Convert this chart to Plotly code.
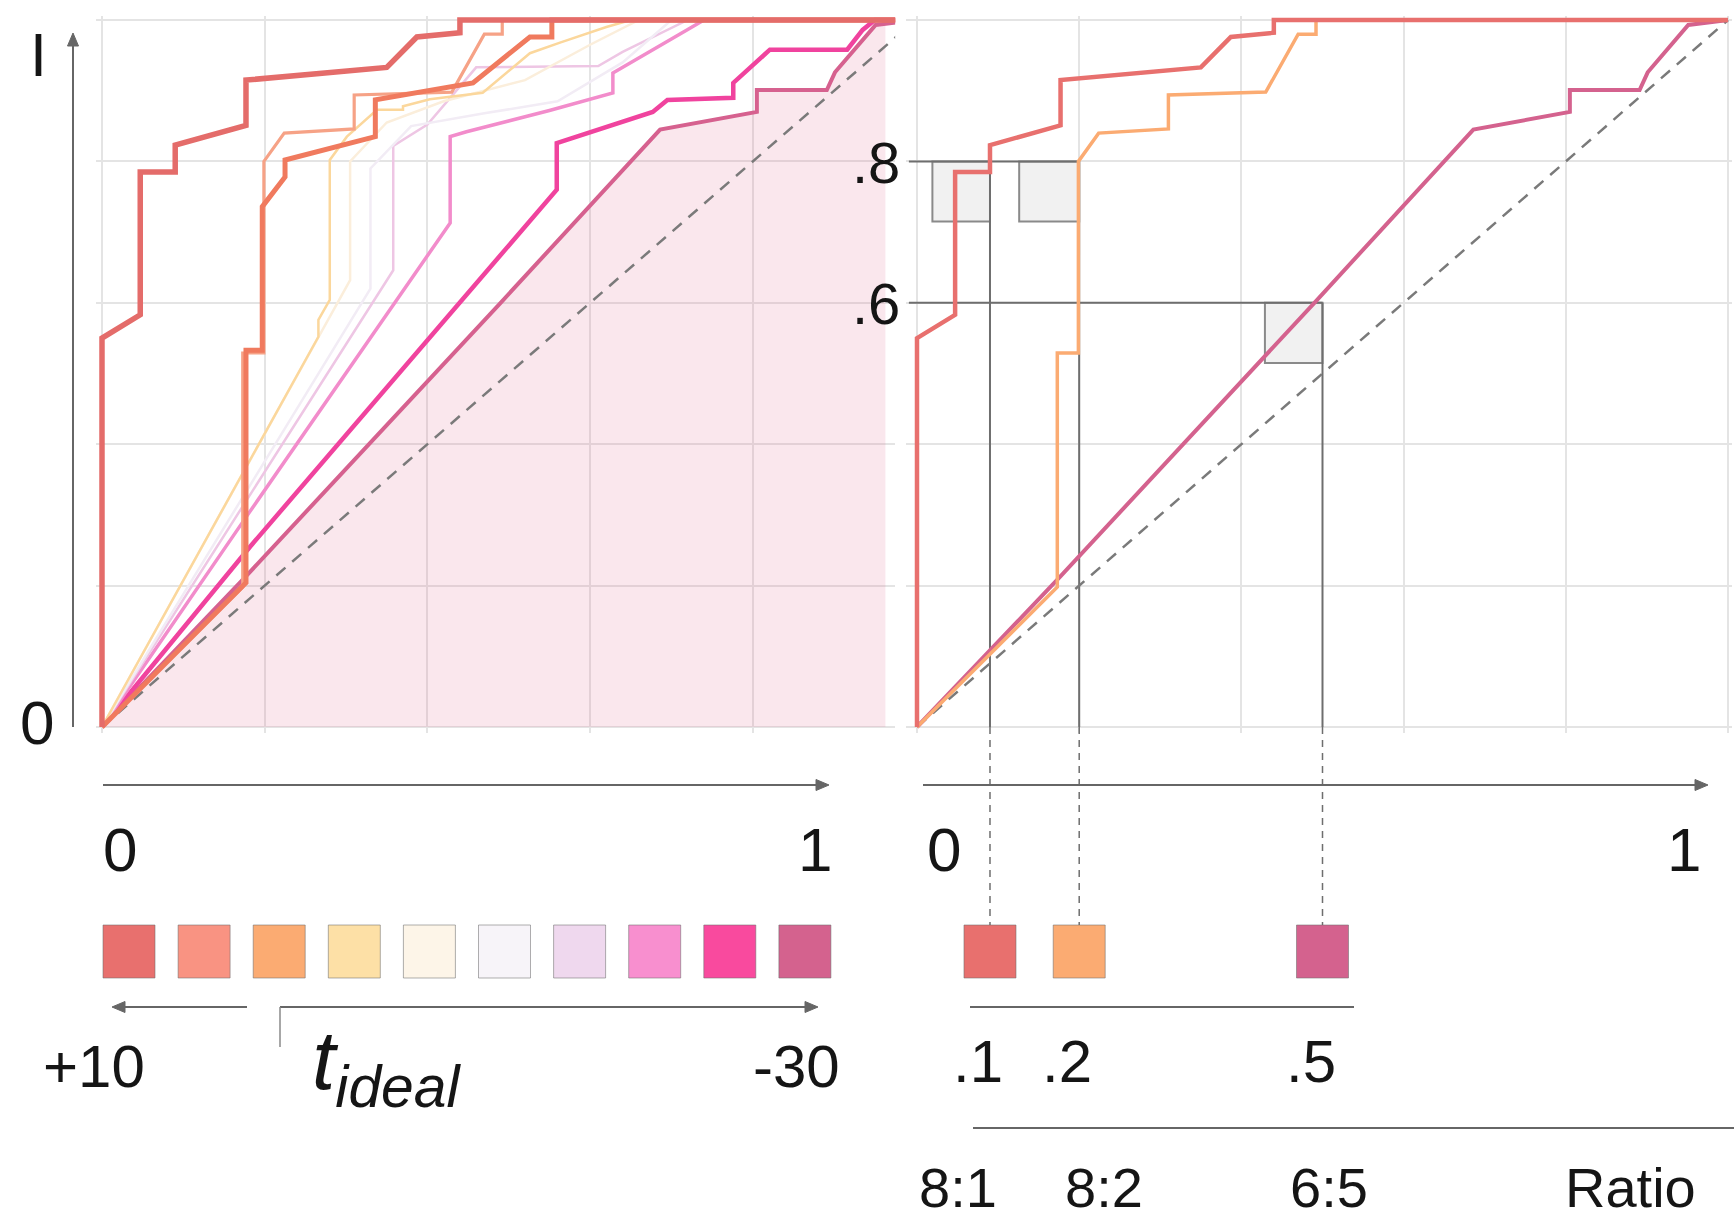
import numpy as np
import plotly.graph_objects as go

W, H = 1734, 1220
FONT = "Liberation Sans, Arial, Helvetica, sans-serif"

# ---------------- data ----------------
# ten curves of the left panel (x = fraction, y = I), ordered +10 ... -30
s1_x = [0, 0, 0.047, 0.047, 0.090, 0.090, 0.177, 0.177, 0.350, 0.387, 0.440, 0.440, 1.0]
s1_y = [0, 0.550, 0.583, 0.785, 0.785, 0.823, 0.851, 0.915, 0.933, 0.976, 0.982, 1.0, 1.0]

s2_x = [0, 0.177, 0.177, 0.197, 0.197, 0.225, 0.225, 0.336, 0.336, 0.456, 0.526, 0.553, 0.553, 1.0]
s2_y = [0, 0.204, 0.533, 0.533, 0.736, 0.778, 0.802, 0.835, 0.887, 0.911, 0.976, 0.976, 1.0, 1.0]

s3_x = [0, 0.173, 0.173, 0.199, 0.199, 0.224, 0.310, 0.310, 0.430, 0.470, 0.492, 0.492, 1.0]
s3_y = [0, 0.198, 0.529, 0.529, 0.800, 0.840, 0.846, 0.894, 0.898, 0.980, 0.980, 1.0, 1.0]

s4_x = [0, 0.266, 0.266, 0.280, 0.280, 0.301, 0.338, 0.370, 0.370, 0.403, 0.468, 0.526, 0.563, 0.620, 0.650, 1.0]
s4_y = [0, 0.552, 0.576, 0.604, 0.802, 0.835, 0.873, 0.873, 0.878, 0.888, 0.897, 0.953, 0.968, 0.990, 1.0, 1.0]

s5_x = [0, 0.305, 0.305, 0.350, 0.420, 0.520, 0.600, 0.660, 1.0]
s5_y = [0, 0.632, 0.800, 0.855, 0.885, 0.915, 0.965, 1.0, 1.0]

s6_x = [0, 0.330, 0.330, 0.380, 0.470, 0.560, 0.640, 0.700, 1.0]
s6_y = [0, 0.620, 0.790, 0.850, 0.868, 0.885, 0.940, 1.0, 1.0]

s7_x = [0, 0.358, 0.358, 0.400, 0.460, 0.610, 0.640, 0.720, 1.0]
s7_y = [0, 0.646, 0.822, 0.852, 0.933, 0.935, 0.955, 1.0, 1.0]

s8_x = [0, 0.182, 0.428, 0.428, 0.448, 0.550, 0.628, 0.628, 0.719, 0.740, 1.0]
s8_y = [0, 0.305, 0.713, 0.835, 0.842, 0.872, 0.897, 0.925, 0.986, 1.0, 1.0]

s9_x = [0, 0.182, 0.559, 0.559, 0.677, 0.695, 0.776, 0.776, 0.821, 0.916, 0.935, 0.950, 1.0]
s9_y = [0, 0.255, 0.760, 0.826, 0.870, 0.887, 0.890, 0.911, 0.958, 0.958, 0.986, 1.0, 1.0]

s10_x = [0, 0.176, 0.490, 0.686, 0.805, 0.805, 0.891, 0.901, 0.951, 1.0]
s10_y = [0, 0.212, 0.600, 0.845, 0.870, 0.901, 0.901, 0.926, 0.993, 1.0]

series_x = [s1_x, s2_x, s3_x, s4_x, s5_x, s6_x, s7_x, s8_x, s9_x, s10_x]
series_y = [s1_y, s2_y, s3_y, s4_y, s5_y, s6_y, s7_y, s8_y, s9_y, s10_y]
square_colors = ["#e8706e", "#f99382", "#fbab72", "#fde0a6", "#fdf5e8",
                 "#f7f4f9", "#efd8ee", "#f88fcf", "#f94a9e", "#d4628e"]
line_colors = ["#e46c6a", "#f07a5e", "#f6a286", "#fbd79c", "#fbeedb",
               "#f2ecf5", "#eec6e4", "#f28ccb", "#f0439e", "#d6618f"]
line_widths = [5.5, 5, 3.2, 2.5, 2.5, 2.5, 2.5, 3.5, 4.5, 4]

# right panel: selected ratios
ratio_series = [0, 2, 9]            # indexes into the series above
ratio_colors = ["#e8706e", "#fbab72", "#d4628e"]
ratio_widths = [4.5, 3.5, 4]
ratio_cross_x = [0.09, 0.2, 0.5]    # where curve crosses its level
ratio_level = [0.8, 0.8, 0.6]
ratio_box_x0 = [0.019, 0.126, 0.429]
box_h = 0.085
ratio_values = [".1", ".2", ".5"]
ratio_labels = ["8:1", "8:2", "6:5"]
level_labels = [".8", ".6"]
level_values = [0.8, 0.6]

x_tick_labels = ["0", "1"]
y_tick_labels = ["0", "I"]
t_labels = ["+10", "-30"]
FILL_XMAX = 0.963

# ---------------- geometry (pixels) ----------------
LX0, LSC = 102, 813.5
RX0, RSC = 917, 811
Y0, YSC = 727, 707
LXR = [-0.007, 0.975]
RXR = [-0.013, 1.005]
YR = [-0.008, 1.006]


def px(x):
    return x / W


def py(y):
    return 1 - y / H


def rx2p(x):
    return px(RX0 + x * RSC)


def ry2p(y):
    return py(Y0 - y * YSC)


left_dom = [px(LX0 + LXR[0] * LSC), px(LX0 + LXR[1] * LSC)]
right_dom = [px(RX0 + RXR[0] * RSC), px(RX0 + RXR[1] * RSC)]
ydom = [py(Y0 - YR[0] * YSC), py(Y0 - YR[1] * YSC)]

fig = go.Figure()

# fill under the lowest curve (left panel)
fx = [x for x in s10_x if x <= FILL_XMAX] + [FILL_XMAX]
fy = [y for x, y in zip(s10_x, s10_y) if x <= FILL_XMAX] + [float(np.interp(FILL_XMAX, s10_x, s10_y))]
fig.add_trace(go.Scatter(x=fx, y=fy, mode="lines", fill="tozeroy",
                         fillcolor="rgba(225,110,150,0.17)", line=dict(width=0),
                         xaxis="x", yaxis="y", hoverinfo="skip", showlegend=False))

dash_style = dict(color="#7a7a7a", width=2.5, dash="12px,9px")
fig.add_trace(go.Scatter(x=[0, 1], y=[0, 1], mode="lines", line=dash_style,
                         xaxis="x", yaxis="y", showlegend=False, hoverinfo="skip"))

for i in reversed(range(10)):
    fig.add_trace(go.Scatter(x=series_x[i], y=series_y[i], mode="lines",
                             line=dict(color=line_colors[i], width=line_widths[i]),
                             xaxis="x", yaxis="y", showlegend=False))

# right panel
fig.add_trace(go.Scatter(x=[0, 1], y=[0, 1], mode="lines", line=dash_style,
                         xaxis="x2", yaxis="y2", showlegend=False, hoverinfo="skip"))
for k in reversed(range(3)):
    i = ratio_series[k]
    fig.add_trace(go.Scatter(x=series_x[i], y=series_y[i], mode="lines",
                             line=dict(color=ratio_colors[k], width=ratio_widths[k]),
                             xaxis="x2", yaxis="y2", showlegend=False))

shapes = []
annotations = []
GRAY = "#6e6e6e"

# boxes and guide lines in right panel
for k in range(3):
    shapes.append(dict(type="rect", xref="x2", yref="y2", layer="between",
                       x0=ratio_box_x0[k], x1=ratio_cross_x[k],
                       y0=ratio_level[k] - box_h, y1=ratio_level[k],
                       fillcolor="#f1f1f1", line=dict(color="#8a8a8a", width=2)))
    shapes.append(dict(type="line", xref="x2", yref="y2", layer="between",
                       x0=ratio_cross_x[k], x1=ratio_cross_x[k], y0=0, y1=ratio_level[k],
                       line=dict(color=GRAY, width=2)))
    shapes.append(dict(type="line", xref="paper", yref="paper",
                       x0=rx2p(ratio_cross_x[k]), x1=rx2p(ratio_cross_x[k]),
                       y0=py(727), y1=py(925),
                       line=dict(color=GRAY, width=1.5, dash="7px,6px")))
for lv in level_values:
    xmax = max(cx for cx, l in zip(ratio_cross_x, ratio_level) if l == lv)
    shapes.append(dict(type="line", xref="x2", yref="y2", layer="between",
                       x0=-0.01, x1=xmax, y0=lv, y1=lv,
                       line=dict(color=GRAY, width=2)))

# legend squares (left)
SQ_W, SQ_TOP, SQ_BOT = 52, 925, 978
for i, c in enumerate(square_colors):
    x0 = 103 + i * 75.1
    shapes.append(dict(type="rect", xref="paper", yref="paper",
                       x0=px(x0), x1=px(x0 + SQ_W), y0=py(SQ_BOT), y1=py(SQ_TOP),
                       fillcolor=c, line=dict(color="rgba(110,110,110,0.55)", width=1)))
# ratio squares (right)
for k, c in enumerate(ratio_colors):
    cx = RX0 + ratio_cross_x[k] * RSC
    shapes.append(dict(type="rect", xref="paper", yref="paper",
                       x0=px(cx - SQ_W / 2), x1=px(cx + SQ_W / 2), y0=py(SQ_BOT), y1=py(SQ_TOP),
                       fillcolor=c, line=dict(color="rgba(110,110,110,0.55)", width=1)))

ARROW = "#666666"


def pline(x0, y0, x1, y1, color=ARROW, width=2):
    shapes.append(dict(type="line", xref="paper", yref="paper",
                       x0=px(x0), y0=py(y0), x1=px(x1), y1=py(y1),
                       line=dict(color=color, width=width)))


def arrow(hx, hy, tx, ty, L=13, Wd=5.5):
    # shaft + filled triangular head (pixel geometry converted to paper)
    d = np.hypot(hx - tx, hy - ty)
    ux, uy = (hx - tx) / d, (hy - ty) / d
    bx, by = hx - ux * L, hy - uy * L
    pline(tx, ty, bx, by)
    p1 = (bx - uy * Wd, by + ux * Wd)
    p2 = (bx + uy * Wd, by - ux * Wd)
    path = "M {} {} L {} {} L {} {} Z".format(px(hx), py(hy), px(p1[0]), py(p1[1]),
                                             px(p2[0]), py(p2[1]))
    shapes.append(dict(type="path", xref="paper", yref="paper", path=path,
                       fillcolor=ARROW, line=dict(color=ARROW, width=1)))


arrow(73, 33, 73, 727)       # y axis
arrow(829, 785, 103, 785)    # left x axis
arrow(1708, 785, 923, 785)   # right x axis
arrow(112, 1007, 247, 1007)  # towards +10
arrow(818, 1007, 280, 1007)  # towards -30
pline(280, 1007, 280, 1047, color="#8a8a8a", width=1.5)
pline(970, 1007, 1354, 1007)
pline(973, 1128, 1734, 1128)


def text(t, x, y, size, xanchor="center"):
    annotations.append(dict(x=px(x), y=py(y), xref="paper", yref="paper", text=t,
                            showarrow=False, xanchor=xanchor, yanchor="middle",
                            font=dict(family=FONT, size=size, color="#151515")))


text(y_tick_labels[1], 38, 55, 61)
text(y_tick_labels[0], 37, 722, 62)
text(x_tick_labels[0], 120, 849, 62)
text(x_tick_labels[1], 815, 849, 62)
text(x_tick_labels[0], 944, 849, 62)
text(x_tick_labels[1], 1684, 849, 62)
for lab, lv in zip(level_labels, level_values):
    annotations.append(dict(x=rx2p(-0.05), y=ry2p(lv) - 1 / H, xref="paper", yref="paper",
                            text=lab, showarrow=False, xanchor="center", yanchor="middle",
                            font=dict(family=FONT, size=58, color="#151515")))
text(t_labels[0], 94, 1066, 60)
text(t_labels[1], 796, 1066, 60)
annotations.append(dict(x=px(310), y=py(1066), xref="paper", yref="paper",
                        text="<i>t</i><sub><i>ideal</i></sub>", showarrow=False,
                        xanchor="left", yanchor="middle",
                        font=dict(family=FONT, size=84, color="#151515")))
for k in range(3):
    cx = RX0 + ratio_cross_x[k] * RSC
    text(ratio_values[k], cx - 12, 1061, 60)
label_x = [958, 1104, 1329, 1630]
for lab, lx in zip(ratio_labels + ["Ratio"], label_x):
    text(lab, lx, 1187, 56)

axis_common = dict(showticklabels=False, ticks="", zeroline=False, showline=False,
                   gridcolor="#e4e4e4", gridwidth=2, tickvals=[0, 0.2, 0.4, 0.6, 0.8, 1.0],
                   fixedrange=True)
fig.update_layout(
    width=W, height=H, margin=dict(l=0, r=0, t=0, b=0),
    paper_bgcolor="white", plot_bgcolor="rgba(0,0,0,0)",
    showlegend=False,
    xaxis=dict(domain=left_dom, range=LXR, anchor="y", **axis_common),
    yaxis=dict(domain=ydom, range=YR, anchor="x", **axis_common),
    xaxis2=dict(domain=right_dom, range=RXR, anchor="y2", **axis_common),
    yaxis2=dict(domain=ydom, range=YR, anchor="x2", **axis_common),
    shapes=shapes, annotations=annotations,
)
fig.write_html("out.html", config={"displayModeBar": False},
               post_script="document.body.style.margin='0';document.body.style.overflow='hidden';")
